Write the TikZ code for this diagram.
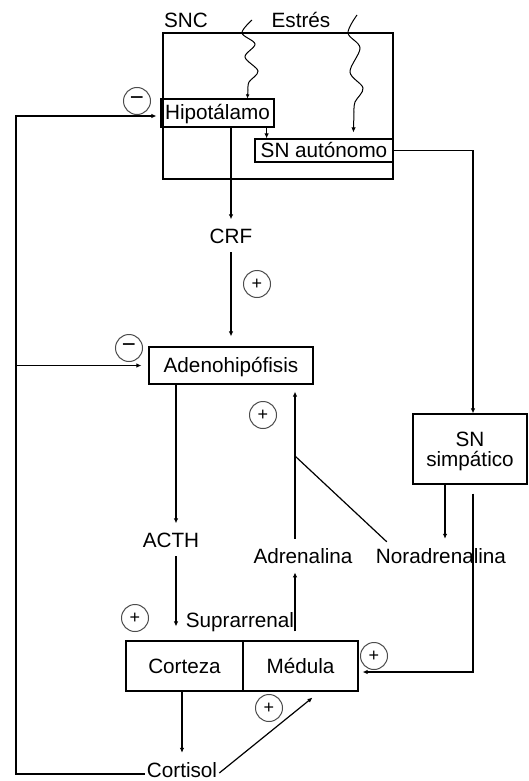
\documentclass[tikz,border=0pt]{standalone}
\usepackage{fontspec}
\setmainfont{Liberation Sans}
\usetikzlibrary{arrows.meta,calc}
\newcommand\fsz{\fontsize{20.7}{20}\selectfont}
\begin{document}
\begin{tikzpicture}[x=1pt,y=-1pt,
  box/.style={draw, line width=1.2pt, inner sep=0pt, font=\fsz, text height=14pt, text depth=0pt},
  lbl/.style={inner xsep=2pt, inner ysep=9pt, font=\fsz, anchor=base},
  sign/.style={circle, draw=black!70, line width=1pt, minimum size=27pt, inner sep=0pt},
  plus/.style={sign, font=\fontsize{18}{18}\selectfont},
  minus/.style={sign, font=\fontsize{24}{24}\selectfont},
  arr/.style={line width=1.2pt, -{Latex[length=5pt,width=4.5pt]}},
  ln/.style={line width=1.2pt},
  wav/.style={line width=1pt}]
\useasboundingbox (0,0) rectangle (528,781);

% SNC area
\node[draw, line width=1.2pt, minimum width=230pt, minimum height=146pt, inner sep=0pt] (snc) at (278,106) {};
\node[lbl] (snclbl) at (186,28) {SNC};
\node[lbl] (estres) at (301,28) {Estrés};
\node[box, minimum width=113pt, minimum height=28pt] (hipo) at (217.5,113) {Hipotálamo};
\node[box, minimum width=138pt, minimum height=23pt, fill=white] (sna) at (324,150.5) {SN autónomo};

% stress lines
\draw[wav, -{Latex[length=4pt,width=4pt]}] plot[smooth, tension=0.55] coordinates {(252,20) (242,33) (255,44) (245,57) (258,71) (249,82) (248,90)} -- ($(hipo.north west)+(87,0)$);
\draw[wav, -{Latex[length=5pt,width=4.5pt]}] plot[smooth, tension=0.55] coordinates {(357,15) (348,33) (360,48) (350,72) (363,88) (355,102) (354,112)} -- ($(sna.north west)+(99,-6)$);

\draw[arr] ([xshift=-8pt]hipo.south east) -- ([xshift=-8pt]hipo.south east |- sna.north);

% hormone chain
\node[lbl] (crf) at (231,243) {CRF};
\node[box, minimum width=164pt, minimum height=37pt] (adeno) at (231,365.5) {Adenohipófisis};
\node[lbl] (acth) at (171,547) {ACTH};
\node[lbl] (adr) at (303,563) {Adrenalina};
\node[lbl] (nor) at (441,563) {Noradrenalina};
\node[lbl] (supra) at (240,627) {Suprarrenal};
\node[box, minimum width=117pt, minimum height=50pt] (corteza) at (184.5,666) {Corteza};
\node[box, minimum width=115pt, minimum height=50pt] (medula) at (300.5,666) {Médula};
\node[lbl] (cortisol) at (182,777) {Cortisol};
\node[draw, line width=1.2pt, minimum width=114pt, minimum height=70pt, inner sep=0pt, font=\fsz, align=center, text depth=0pt] (sns) at (470,449) {SN\\simpático};

% signs
\node[minus] (m1) at (137,101) {−};
\node[minus] (m2) at (129,348) {−};
\node[plus] (p1) at (257,284) {+};
\node[plus] (p2) at (263,415) {+};
\node[plus] (p3) at (135,618) {+};
\node[plus] (p4) at (269,708) {+};
\node[plus] (p5) at (374,656) {+};

% connectors
\draw[arr] (hipo.south -| crf) -- (crf.north);
\draw[arr, shorten >=10pt] (crf.south) -- (crf.south |- adeno.north);
\draw[arr] (sna.east) -| ([xshift=3pt]sns.north);

\coordinate (ax) at (295,0);
\coordinate (lx) at (16,774);
\coordinate (dj) at (295,456);

\draw[arr] ([xshift=-55pt]adeno.south) -- ([xshift=-55pt]adeno.south |- acth.north);
\draw[arr, shorten >=14pt] ([xshift=-55pt]adeno.south |- acth.south) -- ([xshift=-55pt]adeno.south |- corteza.north);

\draw[arr, shorten <=9pt] (ax |- medula.north) -- (ax |- adr.south);
\draw[arr, shorten >=7pt] (ax |- adr.north) -- (ax |- adeno.south);
\draw[ln] (dj) -- ($(nor.north west)+(13,3)$);

\draw[arr] ([xshift=-25pt]sns.south) -- ([xshift=-25pt]sns.south |- nor.north);
\draw[arr, shorten <=9pt, shorten >=4pt] ([xshift=3pt]sns.south) |- ([yshift=-6pt]medula.east);

\draw[arr] (corteza.south -| cortisol.north) -- (cortisol.north);
\draw[arr] ($(cortisol.base east)+(0,-4)$) -- ($(medula.south)+(12,6)$);

\draw[arr, shorten >=4pt] ($(cortisol.base west)+(0,-3)$) -- (lx) |- ([yshift=-3pt]hipo.west);
\draw[arr, shorten >=7pt] (lx |- adeno.west) -- (adeno.west);
\end{tikzpicture}
\end{document}
